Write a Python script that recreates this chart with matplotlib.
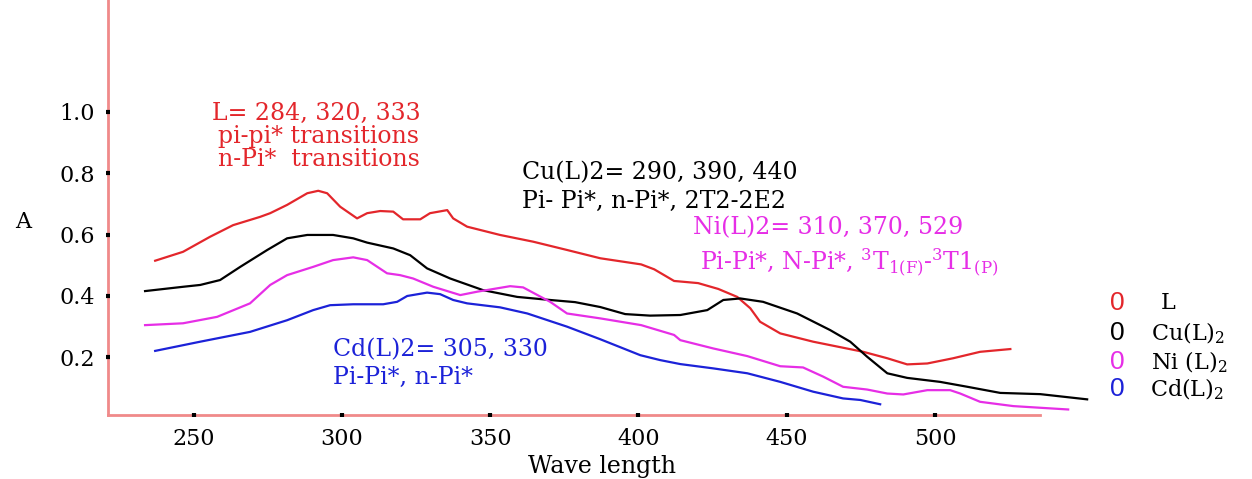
import matplotlib
matplotlib.use("Agg")
import matplotlib.pyplot as plt

plt.rcParams["font.family"] = ["DejaVu Serif"]
plt.rcParams["mathtext.fontset"] = "dejavuserif"

W, H = 1252, 479

x_ticks = [250, 300, 350, 400, 450, 500]
y_ticks = [0.2, 0.4, 0.6, 0.8, 1.0]

# L
l_wl = [237.0, 246.4, 255.5, 263.3, 272.4, 275.8, 281.5, 288.3, 292.0, 295.0,
        299.4, 305.1, 308.5, 312.9, 317.3, 320.6, 326.4, 329.7, 335.5, 337.5,
        342.2, 353.3, 364.5, 375.9, 387.1, 400.9, 405.3, 412.0, 420.1, 426.9,
        433.3, 437.7, 441.0, 447.8, 458.9, 475.8, 483.9, 490.6, 497.4, 506.1,
        515.2, 525.4]
l_abs = [0.515, 0.544, 0.593, 0.631, 0.658, 0.670, 0.697, 0.735, 0.743, 0.735,
         0.691, 0.653, 0.670, 0.677, 0.675, 0.650, 0.650, 0.670, 0.680, 0.653,
         0.626, 0.599, 0.577, 0.550, 0.523, 0.503, 0.487, 0.449, 0.442, 0.423,
         0.397, 0.360, 0.316, 0.278, 0.251, 0.218, 0.197, 0.177, 0.180, 0.197,
         0.218, 0.227]

# Cu(L)2
cu_wl = [233.6, 246.4, 252.2, 258.9, 265.7, 274.8, 281.5, 288.3, 297.0, 303.8,
         308.5, 317.3, 323.0, 328.7, 336.5, 347.6, 359.1, 370.2, 378.6, 387.1,
         395.5, 403.9, 414.1, 423.2, 428.6, 434.3, 442.0, 453.5, 464.6, 471.4,
         477.1, 483.9, 490.6, 501.7, 510.9, 522.0, 535.5, 551.3]
cu_abs = [0.416, 0.430, 0.436, 0.452, 0.495, 0.550, 0.588, 0.599, 0.599, 0.588,
          0.574, 0.555, 0.533, 0.490, 0.457, 0.419, 0.397, 0.387, 0.380, 0.364,
          0.341, 0.336, 0.338, 0.354, 0.387, 0.392, 0.381, 0.343, 0.289, 0.251,
          0.202, 0.148, 0.133, 0.120, 0.104, 0.084, 0.080, 0.063]

# Ni(L)2
ni_wl = [233.6, 246.4, 257.9, 269.0, 275.8, 281.5, 290.3, 297.0, 303.8, 308.5,
         315.2, 319.6, 324.0, 330.8, 339.9, 345.6, 356.7, 361.1, 370.2, 375.9,
         387.1, 400.9, 412.0, 414.1, 425.2, 436.7, 447.8, 455.5, 462.3, 469.0,
         477.1, 483.9, 489.3, 497.4, 505.1, 508.5, 515.2, 526.4, 544.9]
ni_abs = [0.305, 0.311, 0.332, 0.376, 0.436, 0.468, 0.495, 0.517, 0.526, 0.517,
          0.474, 0.468, 0.457, 0.430, 0.403, 0.414, 0.432, 0.428, 0.381, 0.343,
          0.327, 0.305, 0.273, 0.256, 0.229, 0.204, 0.171, 0.167, 0.137, 0.104,
          0.095, 0.082, 0.079, 0.093, 0.093, 0.082, 0.055, 0.041, 0.030]

# Cd(L)2
cd_wl = [237.0, 252.2, 269.0, 281.5, 290.3, 296.0, 303.8, 313.9, 318.6, 322.0,
         328.7, 333.1, 337.5, 342.2, 353.3, 362.5, 375.9, 387.1, 400.6, 407.3,
         414.1, 425.2, 436.7, 447.8, 458.9, 469.0, 474.8, 481.5]
cd_abs = [0.221, 0.251, 0.283, 0.321, 0.354, 0.370, 0.373, 0.373, 0.381, 0.400,
          0.411, 0.406, 0.387, 0.376, 0.363, 0.343, 0.300, 0.259, 0.207, 0.191,
          0.178, 0.164, 0.148, 0.120, 0.088, 0.066, 0.061, 0.047]

red = "#e3262b"
magenta = "#e62ee6"
blue = "#1c22d8"
pink = "#f08a8a"

fig = plt.figure(figsize=(W / 100, H / 100), dpi=100)
ax = fig.add_axes([108 / W, (H - 415) / H, 932 / W, 415 / H])

ax.plot(l_wl, l_abs, color=red, lw=1.6)
ax.plot(cu_wl, cu_abs, color="black", lw=1.6, clip_on=False)
ax.plot(ni_wl, ni_abs, color=magenta, lw=1.6, clip_on=False)
ax.plot(cd_wl, cd_abs, color=blue, lw=1.6)

ax.set_xlim(221.1, 535.4)
ax.set_ylim(0.012, 1.365)

for s in ["top", "right"]:
    ax.spines[s].set_visible(False)
for s in ["left", "bottom"]:
    ax.spines[s].set_color(pink)
    ax.spines[s].set_linewidth(2)
    ax.spines[s].set_zorder(1)

ax.set_xticks(x_ticks)
ax.set_xticklabels([str(v) for v in x_ticks])
ax.set_yticks(y_ticks)
ax.set_yticklabels([f"{v:.1f}" for v in y_ticks])
ax.tick_params(direction="inout", length=3, width=3, color="black",
               labelsize=16, pad=8)


def put(x, y, s, color="black", size=17, ha="left", **kw):
    fig.text(x / W, 1 - y / H, s, color=color, fontsize=size, ha=ha,
             va="center", **kw)


put(23, 222, "A", size=16, ha="center")
put(602, 466, "Wave length", size=17, ha="center")

put(212, 113, "L= 284, 320, 333", red)
put(218, 137, "pi-pi* transitions", red)
put(218, 160, "n-Pi*  transitions", red)

put(522, 173, "Cu(L)2= 290, 390, 440")
put(522, 201, "Pi- Pi*, n-Pi*, 2T2-2E2")

put(693, 228, "Ni(L)2= 310, 370, 529", magenta)
put(700, 263, r"Pi-Pi*, N-Pi*, $^{3}\mathrm{T}_{\mathrm{1(F)}}$-$^{3}\mathrm{T1}_{\mathrm{(P)}}$",
    magenta)

put(333, 350, "Cd(L)2= 305, 330", blue)
put(333, 377, "Pi-Pi*, n-Pi*", blue)

legend_colors = [red, "black", magenta, blue]
legend_labels = ["L", r"Cu(L)$_2$", r"Ni (L)$_2$", r"Cd(L)$_2$"]
legend_y = [303, 333, 362, 389]
legend_x = [1161, 1151, 1151, 1150]
for c, lab, ly, lx in zip(legend_colors, legend_labels, legend_y, legend_x):
    put(1117, ly, "0", c, size=19, ha="center", family=["Liberation Sans"])
    put(lx, ly, lab, size=16)

fig.savefig("out.png", dpi=100)
